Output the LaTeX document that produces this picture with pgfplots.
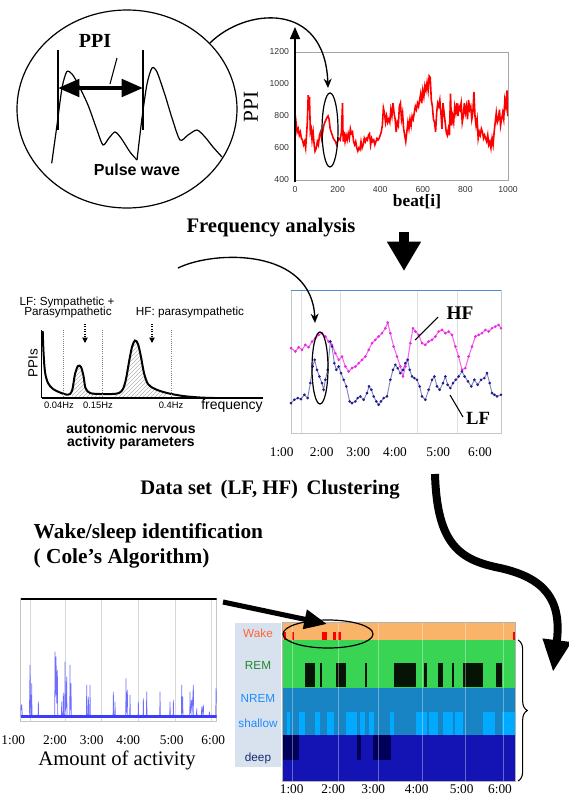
\documentclass[border=0pt]{standalone}
\usepackage{pgfplots}
\pgfplotsset{compat=1.18}
\usepackage{fontspec}
\setmainfont{Liberation Serif}
\setsansfont{Liberation Sans}
\usetikzlibrary{arrows.meta,patterns,decorations.pathreplacing}
\definecolor{hfmag}{RGB}{235,40,225}
\definecolor{lfnavy}{RGB}{30,30,140}
\definecolor{boxtop}{RGB}{80,140,200}
\definecolor{actblue}{RGB}{60,60,255}
\definecolor{wakeor}{RGB}{250,180,105}
\definecolor{remgreen}{RGB}{58,212,85}
\definecolor{remblack}{RGB}{5,20,5}
\definecolor{nremblue}{RGB}{25,132,195}
\definecolor{shcyan}{RGB}{0,170,255}
\definecolor{deepblue}{RGB}{20,20,180}
\definecolor{deepdark}{RGB}{0,0,90}
\definecolor{panelbg}{RGB}{216,226,238}
\definecolor{waketxt}{RGB}{255,100,50}
\definecolor{remtxt}{RGB}{30,135,45}
\definecolor{nremtxt}{RGB}{30,140,255}
\definecolor{deeptxt}{RGB}{25,40,110}
\newcommand{\fsz}[1]{\fontsize{#1}{#1}\selectfont}
\newcommand{\rect}[5]{\addplot[fill=#5,draw=none] coordinates {(#1,#3) (#2,#3) (#2,#4) (#1,#4)};}
\begin{document}
\begin{tikzpicture}[x=0.75pt,y=-0.75pt]
\useasboundingbox (0,0) rectangle (568,796);

% ---------- overlay axis in pixel units (pulse wave, spectrum) ----------
\begin{axis}[at={(0pt,0pt)},anchor=north west,scale only axis,width=426pt,height=597pt,
  xmin=0,xmax=568,ymin=0,ymax=796,y dir=reverse,axis lines=none,clip=false]
\addplot[black,line width=0.9pt,smooth,tension=0.45] coordinates {
(51.7,163.3) (57,125) (62,88) (66.7,71.7) (72,74) (78,84) (88,105) (97,130) (103,145) (109,138) (115,132) (121,138) (130,152) (137,160)};
\addplot[black,line width=0.9pt,smooth,tension=0.45] coordinates {
(137,160) (142,118) (147,84) (152,68) (157,72) (165,95) (172,118) (180,140) (188,135) (197,130) (205,137) (213,147) (222,157)};
\addplot[draw=none,pattern=north east lines,pattern color=gray!60] coordinates {
(72,398) (72,392) (75,374) (78,366) (81,367) (83.5,376) (85.5,388) (90,393) (100,394) (100,398)};
\addplot[draw=none,pattern=north east lines,pattern color=gray!60] coordinates {
(113,398) (113,394) (119,393) (123,389) (126,379) (129,362) (132,347) (135,340.5) (138,344) (141,357) (144,373) (148,384) (155,389) (167,393) (167,398)};
\addplot[black,line width=1.5pt,smooth] coordinates {
(42.7,331) (43.5,352) (45,372) (48,383) (53,389) (60,392.5) (66,394.5) (70,394) (72.5,389) (75,374) (78,366) (81,367) (83.5,376) (85.5,388) (90,393) (100,394) (112,394) (119,393) (123,389) (126,379) (129,362) (132,347) (135,340.5) (138,344) (141,357) (144,373) (148,384) (155,389) (167,393) (183,396) (200,397.5) (214,398)};
\end{axis}

% ---------- PPI chart ----------
\begin{axis}[at={(221.25pt,-39pt)},anchor=north west,scale only axis,width=159.75pt,height=96pt,
  xmin=0,xmax=1000,ymin=400,ymax=1200,xtick={0,200,...,1000},ytick={400,600,...,1200},
  tick label style={font=\sffamily\fsz{6.5},text=black!80},
  /pgf/number format/assume math mode=true,/pgf/number format/set thousands separator={},
  axis line style={gray!70},major tick length=0pt,
  xticklabel style={yshift=-1pt},yticklabel style={xshift=-1pt}]
\addplot[red,line width=1.2pt] coordinates {
(0,820) (5,760) (10,700) (15,720) (20,680) (25,700) (30,660) (35,650) (40,620) (45,640)
(50,600) (55,700) (58,760) (62,930) (65,860) (68,920) (72,700) (76,720) (80,650) (85,700)
(90,620) (94,580) (100,600) (105,640) (110,620) (115,680) (120,700) (125,660) (130,700) (135,740)
(140,760) (150,790) (155,800) (160,780) (165,720) (170,700) (175,680) (180,660) (185,650) (190,640)
(195,620) (205,660) (212,650) (218,700) (223,880) (226,640) (230,700) (235,640) (240,680) (245,650)
(250,690) (255,660) (260,720) (265,690) (270,700) (275,640) (280,620) (285,640) (290,600) (295,580)
(300,600) (305,590) (310,640) (315,600) (320,620) (325,660) (330,640) (335,660) (340,650) (345,680)
(350,690) (355,620) (360,660) (365,640) (370,650) (375,620) (380,640) (385,660) (390,650) (395,660)
(400,680) (405,700) (410,740) (415,850) (420,820) (425,760) (430,800) (435,760) (440,780) (445,760)
(450,840) (455,800) (460,880) (465,820) (470,780) (475,700) (480,760) (485,740) (490,860) (495,880)
(500,780) (505,820) (510,720) (515,680) (520,640) (525,700) (530,760) (535,720) (540,780) (545,740)
(550,800) (555,780) (560,820) (565,860) (570,840) (575,880) (580,860) (585,900) (590,940) (595,880)
(600,960) (605,920) (610,990) (615,960) (620,1010) (625,960) (630,1050) (635,1040) (640,900) (645,860)
(650,780) (655,760) (660,700) (665,820) (670,880) (675,860) (680,900) (685,820) (690,720) (695,880)
(700,820) (705,760) (710,700) (715,680) (720,720) (725,680) (730,940) (735,740) (740,800) (745,760)
(750,860) (755,820) (760,880) (765,800) (770,860) (775,840) (780,880) (785,760) (790,800) (795,880)
(800,820) (805,860) (810,780) (815,900) (820,840) (825,860) (830,780) (835,820) (840,950) (845,800)
(850,740) (855,780) (860,660) (865,700) (870,680) (875,720) (880,700) (885,660) (890,680) (895,660)
(900,640) (905,680) (910,620) (915,640) (920,600) (925,660) (930,620) (935,700) (940,760) (945,820)
(950,760) (955,780) (960,840) (965,740) (970,780) (975,820) (980,780) (985,900) (990,860) (995,960) (1000,800)};
\end{axis}

% ---------- LF / HF chart ----------
\begin{axis}[at={(218.25pt,-217.5pt)},anchor=north west,scale only axis,width=157.5pt,height=107.25pt,
  xmin=62,xmax=692,ymin=0,ymax=430,xtick={92,210,440,560},xticklabels={},ytick=\empty,
  xmajorgrids,grid style={gray!25},major tick length=0pt,axis line style={gray!45}]
\addplot[hfmag!70,line width=0.8pt,mark=*,mark size=0.55pt,mark options={hfmag}] coordinates {
(62,255) (75,245) (85,258) (95,250) (105,265) (115,258) (125,275) (135,285) (145,295) (155,300)
(165,290) (175,275) (185,265) (195,240) (205,220) (215,230) (225,200) (235,185) (245,195) (255,200)
(265,210) (275,220) (285,230) (295,250) (305,270) (315,280) (325,290) (335,300) (345,315) (352,332)
(360,300) (370,260) (380,230) (390,200) (398,170) (405,200) (412,220) (420,270) (428,315) (435,305)
(445,295) (455,270) (465,265) (475,275) (485,280) (495,290) (505,305) (515,310) (525,300) (535,305)
(545,295) (555,260) (565,230) (575,190) (585,195) (595,230) (605,260) (615,290) (625,295) (635,300)
(645,310) (655,305) (665,315) (675,320) (685,325) (692,315)};
\addplot[lfnavy!55,line width=0.7pt,mark=*,mark size=0.6pt,mark options={lfnavy}] coordinates {
(62,90) (72,100) (82,105) (92,102) (102,115) (112,105) (120,150) (127,200) (133,220) (140,190)
(147,170) (155,150) (160,130) (165,160) (172,190) (180,275) (185,260) (192,210) (198,190) (205,200)
(212,180) (220,160) (228,140) (238,95) (245,90) (255,95) (262,105) (270,110) (280,100) (290,120)
(296,140) (303,130) (310,110) (318,95) (325,85) (332,95) (340,105) (350,110) (360,160) (368,190)
(375,205) (382,195) (390,180) (398,190) (405,210) (412,220) (418,190) (425,170) (432,165) (440,160)
(448,140) (455,110) (465,100) (475,130) (485,160) (492,170) (500,140) (508,130) (518,150) (525,170)
(532,145) (540,135) (548,150) (556,160) (565,170) (575,185) (583,170) (593,155) (603,140) (612,160)
(622,145) (632,160) (642,165) (650,180) (658,150) (665,120) (672,115) (680,110) (692,115)};
\draw[boxtop,line width=1.5pt] (axis cs:62,430) -- (axis cs:692,430);
\end{axis}

% ---------- activity chart ----------
\begin{axis}[at={(15.525pt,-448.725pt)},anchor=north west,scale only axis,width=147pt,height=92.5pt,
  xmin=62,xmax=650,ymin=-15,ymax=355,xtick={90,195,305,415,525,635},xticklabels={},ytick=\empty,
  xmajorgrids,grid style={gray!30},major tick length=0pt,axis line style={gray!45}]
\addplot[actblue!75,line width=0.5pt] coordinates {
(62,0) (63,30) (65,35) (67,5) (70,0)
(88,0) (90,155) (92,0) (94,0) (95,100) (96,0)
(114,0) (115,45) (116,0)
(164,0) (165,195) (166,60) (168,180) (170,40) (172,140) (173,0)
(184,0) (185,45) (186,0) (189,0) (190,72) (191,0) (194,0) (195,165) (196,20) (198,30) (200,120) (201,0)
(209,0) (210,155) (211,20) (213,100) (214,0)
(259,0) (260,95) (261,0) (264,0) (265,60) (266,0) (269,0) (270,95) (271,0)
(339,0) (340,75) (341,0) (344,0) (345,45) (346,0)
(377,0) (378,115) (379,10) (382,80) (383,0) (389,0) (390,65) (391,0)
(414,0) (415,45) (416,0) (429,0) (430,55) (431,0) (439,0) (440,75) (441,0)
(479,0) (480,75) (481,0)
(509,0) (510,45) (511,0) (519,0) (520,50) (521,0)
(544,0) (545,95) (546,10) (548,60) (549,0)
(569,0) (570,75) (571,10) (575,50) (576,5) (580,95) (581,0)
(589,0) (590,25) (591,0) (604,0) (605,30) (606,5) (610,35) (611,0)
(627,0) (628,15) (629,0)
(647,0) (648,85) (650,40)};
\addplot[actblue,line width=2.2pt] coordinates {(62,0) (650,0)};
\draw[black,line width=3pt] (axis cs:62,355) -- (axis cs:650,355);
\end{axis}

% ---------- sleep stage chart ----------
\fill[panelbg] (235,623) rectangle (281,767);
\begin{axis}[at={(212.025pt,-467.025pt)},anchor=north west,scale only axis,width=174.25pt,height=119.25pt,
  xmin=38,xmax=735,ymin=0,ymax=477,xtick={68,205,325,458,585,700},xticklabels={},ytick=\empty,
  xmajorgrids,grid style={white,opacity=0.35},axis on top,major tick length=0pt,axis line style={gray!60}]
\rect{38}{735}{425}{477}{wakeor}
\rect{38}{735}{280}{425}{remgreen}
\rect{38}{735}{140}{280}{nremblue}
\rect{38}{735}{0}{140}{deepblue}
% wake (red)
\rect{42}{47}{425}{450}{red}
\rect{65}{72}{425}{450}{red}
\rect{155}{172}{425}{450}{red}
\rect{190}{198}{425}{450}{red}
\rect{205}{213}{425}{450}{red}
\rect{730}{735}{425}{450}{red}
% REM (black)
\rect{105}{135}{283}{355}{remblack}
\rect{150}{157}{283}{355}{remblack}
\rect{197}{228}{283}{355}{remblack}
\rect{285}{290}{283}{355}{remblack}
\rect{373}{437}{283}{355}{remblack}
\rect{463}{470}{283}{355}{remblack}
\rect{503}{520}{283}{355}{remblack}
\rect{545}{552}{283}{355}{remblack}
\rect{580}{640}{283}{355}{remblack}
\rect{678}{695}{283}{355}{remblack}
% shallow (cyan)
\rect{50}{60}{140}{210}{shcyan}
\rect{88}{105}{140}{210}{shcyan}
\rect{135}{150}{140}{210}{shcyan}
\rect{172}{192}{140}{210}{shcyan}
\rect{228}{262}{140}{210}{shcyan}
\rect{270}{285}{140}{210}{shcyan}
\rect{298}{312}{140}{210}{shcyan}
\rect{360}{372}{140}{210}{shcyan}
\rect{438}{470}{140}{210}{shcyan}
\rect{478}{505}{140}{210}{shcyan}
\rect{518}{548}{140}{210}{shcyan}
\rect{555}{580}{140}{210}{shcyan}
\rect{640}{675}{140}{210}{shcyan}
\rect{695}{735}{140}{210}{shcyan}
% deep (dark)
\rect{40}{88}{65}{140}{deepdark}
\rect{262}{272}{65}{140}{deepdark}
\rect{310}{362}{65}{140}{deepdark}
\end{axis}

% ---------- annotations ----------
\draw[line width=0.9pt] (127,109) ellipse [x radius=110, y radius=99];
\draw[line width=0.8pt] (58,50) -- (58,130);
\draw[line width=0.8pt] (143,50) -- (143,130);
\draw[line width=3pt,{Triangle[length=16pt,width=13pt]}-{Triangle[length=16pt,width=13pt]}] (58,88) -- (143,88);
\draw[line width=0.8pt] (117,58) -- (110,84);
\node[font=\bfseries\fsz{15}] at (95,41) {PPI};
\node[font=\sffamily\bfseries\fsz{12}] at (137,170) {Pulse wave};
\draw[line width=1pt,-{Stealth[length=7pt,width=6pt]}] (210,43) .. controls (245,8) and (325,0) .. (328,88);
\draw[line width=1.1pt,-{Triangle[length=9pt,width=7.5pt]}] (295,182) -- (295,27);
\node[rotate=90,font=\fsz{16}] at (251,107) {PPI};
\node[font=\bfseries\fsz{13}] at (417,202) {beat[i]};
\draw[line width=0.9pt] (330,130) ellipse [x radius=8, y radius=37];
\node[font=\bfseries\fsz{15.5}] at (271,228) {Frequency analysis};
\draw[line width=7pt,-{Triangle[length=22pt,width=24pt]}] (404,232) -- (404,271);
\draw[gray,densely dotted,line width=0.6pt] (63,330) -- (63,398);
\draw[gray,densely dotted,line width=0.6pt] (102,330) -- (102,398);
\draw[gray,densely dotted,line width=0.6pt] (171,330) -- (171,398);
\draw[line width=0.9pt] (41.7,398) -- (263,398);
\draw[line width=0.9pt] (41.7,398) -- (41.7,330);
\draw[line width=0.8pt,densely dotted,-{Triangle[length=4pt,width=4pt]}] (85,324) -- (85,343);
\draw[line width=0.8pt,densely dotted,-{Triangle[length=4pt,width=4pt]}] (152,324) -- (152,343);
\node[font=\sffamily\fsz{8.8}] at (67,302) {LF: Sympathetic +};
\node[font=\sffamily\fsz{8.8}] at (68,312) {Parasympathetic};
\node[font=\sffamily\fsz{8.8}] at (190,312) {HF: parasympathetic};
\node[rotate=90,font=\sffamily\fsz{10}] at (33,363) {PPIs};
\node[font=\sffamily\fsz{7}] at (59,405) {0.04Hz};
\node[font=\sffamily\fsz{7}] at (98,405) {0.15Hz};
\node[font=\sffamily\fsz{7}] at (171,405) {0.4Hz};
\node[font=\sffamily\fsz{10.5}] at (232,406) {frequency};
\node[font=\sffamily\bfseries\fsz{10.5}] at (131,428) {autonomic nervous};
\node[font=\sffamily\bfseries\fsz{10.5}] at (131,443) {activity parameters};
\draw[line width=1pt,-{Stealth[length=7pt,width=6pt]}] (178,268) .. controls (215,250) and (312,248) .. (315,323);
\draw[line width=0.9pt] (320,368) ellipse [x radius=8, y radius=36];
\draw[line width=0.8pt] (438,317) -- (415,340);
\draw[line width=0.8pt] (463,417) -- (450,395);
\node[font=\bfseries\fsz{14.5}] at (460,313) {HF};
\node[font=\bfseries\fsz{14}] at (478,418) {LF};
\foreach \x/\t in {281.7/1:00,321.7/2:00,358.3/3:00,395/4:00,438.3/5:00,480/6:00}
  \node[font=\fsz{10}] at (\x,452) {\t};
\node[font=\bfseries\fsz{15.5}] at (270,490) {Data set \,(LF, HF)\, Clustering};
\draw[line width=6pt,-{Triangle[length=24pt,width=20pt]}] (435,474) .. controls (437,545) and (460,560) .. (500,568) .. controls (545,578) and (562,600) .. (553,672);
\node[anchor=west,font=\bfseries\fsz{16}] at (29,533) {Wake/sleep identification};
\node[anchor=west,font=\bfseries\fsz{16}] at (29,558) {( Cole’s Algorithm)};
\foreach \x/\t in {13.3/1:00,55/2:00,91.7/3:00,128.3/4:00,171.7/5:00,213.3/6:00}
  \node[font=\fsz{10}] at (\x,740) {\t};
\node[font=\fsz{15.5}] at (117,760) {Amount of activity};
\draw[line width=3.8pt,-{Triangle[length=17pt,width=14pt]}] (223,602) -- (327,624);
\draw[line width=0.9pt] (328,634) ellipse [x radius=45, y radius=14];
\node[font=\sffamily\fsz{8.8},text=waketxt] at (258,633) {Wake};
\node[font=\sffamily\fsz{8.8},text=remtxt] at (258,665) {REM};
\node[font=\sffamily\fsz{8.8},text=nremtxt] at (258,698) {NREM};
\node[font=\sffamily\fsz{8.8},text=nremtxt] at (258,723) {shallow};
\node[font=\sffamily\fsz{8.8},text=deeptxt] at (258,758) {deep};
\foreach \x/\t in {291.7/1:00,333.3/2:00,373.3/3:00,416.7/4:00,461.7/5:00,500/6:00}
  \node[font=\fsz{10}] at (\x,789) {\t};
\draw[line width=0.8pt,decorate,decoration={brace,amplitude=7pt}] (518,640) -- (518,781);
\end{tikzpicture}
\end{document}
